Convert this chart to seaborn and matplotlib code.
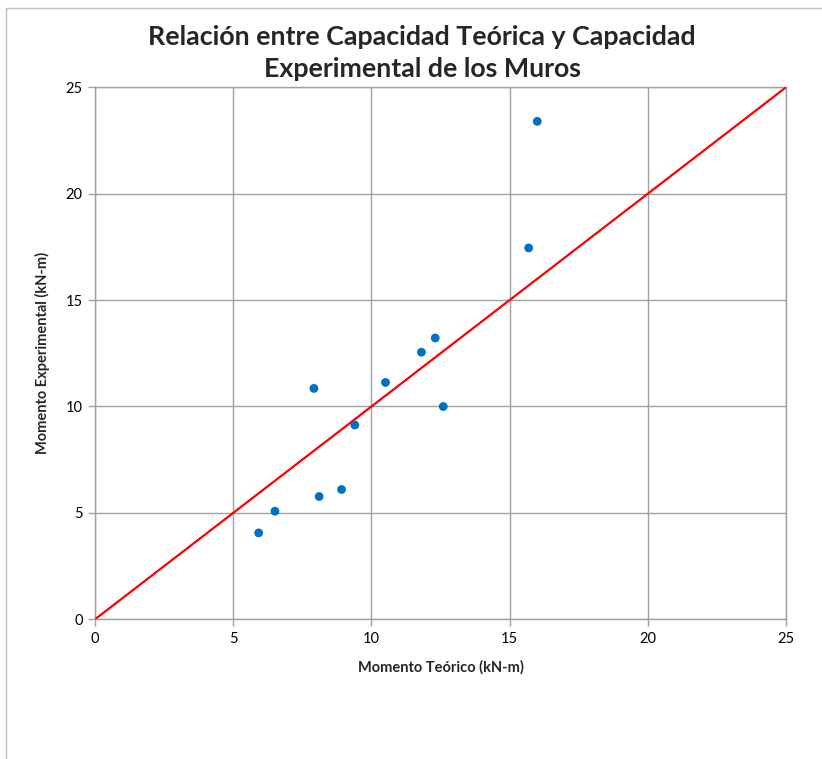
import matplotlib
matplotlib.use("Agg")
import matplotlib.pyplot as plt
import seaborn as sns
import pandas as pd
from matplotlib.patches import Rectangle

# Data
momento_teorico = [5.92, 6.51, 7.92, 8.11, 8.92, 9.40, 10.51, 11.81, 12.31, 12.60, 15.69, 16.00]
momento_experimental = [4.06, 5.08, 10.85, 5.77, 6.10, 9.13, 11.13, 12.55, 13.22, 10.00, 17.45, 23.40]
ref_x = [0, 25]
ref_y = [0, 25]
ticks = [0, 5, 10, 15, 20, 25]

title = "Relación entre Capacidad Teórica y Capacidad\nExperimental de los Muros"
xlabel = "Momento Teórico (kN-m)"
ylabel = "Momento Experimental (kN-m)"

sns.set_theme(style="white")
plt.rcParams['font.family'] = ['Lato', 'DejaVu Sans']

W, H = 822, 759
fig = plt.figure(figsize=(W / 100, H / 100), dpi=100)
ax = fig.add_axes([95 / W, 1 - 619.3 / H, (786 - 95) / W, (619.3 - 87.3) / H])

df = pd.DataFrame({"x": momento_teorico, "y": momento_experimental})
ref = pd.DataFrame({"x": ref_x, "y": ref_y})

sns.lineplot(data=ref, x="x", y="y", ax=ax, color="#FF0000", linewidth=1.6, zorder=3)
sns.scatterplot(data=df, x="x", y="y", ax=ax, color="#0070C0", s=40, edgecolor="none", zorder=4)

ax.set_xlim(0, 25)
ax.set_ylim(0, 25)
ax.set_xticks(ticks)
ax.set_yticks(ticks)
ax.set_xticklabels([str(t) for t in ticks])
ax.set_yticklabels([str(t) for t in ticks])
ax.grid(True, color="#A0A0A0", linewidth=1.0)
ax.set_axisbelow(True)
for s in ax.spines.values():
    s.set_color("#A0A0A0")
    s.set_linewidth(1.0)
ax.tick_params(axis="both", which="both", direction="out", length=5, width=1.0,
               color="#A0A0A0", labelsize=10.5, labelcolor="black", pad=4,
               bottom=True, left=True)

ax.set_xlabel(xlabel, fontsize=10.5, fontweight="bold", labelpad=10)
ax.set_ylabel(ylabel, fontsize=10.5, fontweight="bold", labelpad=11)

fig.text(422 / W, 1 - 53 / H, title, ha="center", va="center", fontsize=19.3,
         fontweight="bold", linespacing=1.42)

# Chart area border
fig.add_artist(Rectangle((6 / W, -0.1), 1.2, (H - 8) / H + 0.1, transform=fig.transFigure,
                         fill=False, edgecolor="#BFBFBF", linewidth=1.0))

fig.savefig("out.png", dpi=100)
